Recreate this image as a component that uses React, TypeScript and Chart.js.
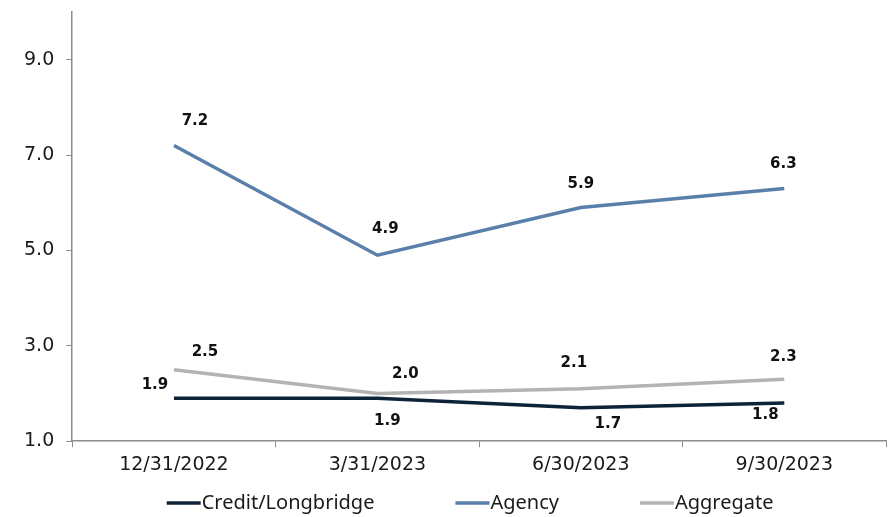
import { useEffect, useRef } from "react";
import { Chart, registerables } from "chart.js";

Chart.register(...registerables);

const categories = ["12/31/2022", "3/31/2023", "6/30/2023", "9/30/2023"];
const creditLongbridge = [1.9, 1.9, 1.7, 1.8];
const agency = [7.2, 4.9, 5.9, 6.3];
const aggregate = [2.5, 2.0, 2.1, 2.3];
const yTicks = [1, 3, 5, 7, 9];

const COLORS = {
  credit: "#0d2438",
  agency: "#5b7fab",
  aggregate: "#b3b3b3",
  axis: "#8c8c8c",
  text: "#1a1a1a",
};

export default function App() {
  const ref = useRef<HTMLCanvasElement>(null);

  useEffect(() => {
    document.body.style.margin = "0";
    const canvas = ref.current;
    if (!canvas) return;

    // label offsets (dx, dy) relative to each point, per dataset
    const labelOffsets = [
      [[-19, -13], [10, 23], [27, 16], [-19, 12]],
      [[21, -24], [8, -26], [0, -23], [-1, -24]],
      [[31, -18], [28, -19], [-7, -26], [-1, -22]],
    ];

    const dataLabels = {
      id: "dataLabels",
      afterDatasetsDraw(chart: any) {
        const ctx = chart.ctx;
        ctx.save();
        ctx.font = "bold 15px 'DejaVu Sans'";
        ctx.fillStyle = "#111111";
        ctx.textAlign = "center";
        ctx.textBaseline = "middle";
        chart.data.datasets.forEach((ds: any, i: number) => {
          const meta = chart.getDatasetMeta(i);
          meta.data.forEach((pt: any, j: number) => {
            const [dx, dy] = labelOffsets[i][j];
            ctx.fillText(Number(ds.data[j]).toFixed(1), pt.x + dx, pt.y + dy);
          });
        });
        ctx.restore();
      },
    };

    const customLegend = {
      id: "customLegend",
      afterDraw(chart: any) {
        const ctx = chart.ctx;
        ctx.save();
        ctx.font = "20px 'Noto Sans'";
        ctx.textBaseline = "middle";
        ctx.textAlign = "left";
        const sample = 34;
        const gap = 1;
        const spacing = 81;
        const items = chart.data.datasets.map((ds: any) => ({
          text: ds.label,
          color: ds.borderColor,
          w: ctx.measureText(ds.label).width,
        }));
        const total =
          items.reduce((s: number, it: any) => s + sample + gap + it.w, 0) +
          spacing * (items.length - 1);
        const center = (chart.chartArea.left + chart.chartArea.right) / 2 - 9;
        let x = center - total / 2;
        const y = chart.height - 14;
        items.forEach((it: any) => {
          ctx.strokeStyle = it.color;
          ctx.lineWidth = 3.5;
          ctx.beginPath();
          ctx.moveTo(x, y);
          ctx.lineTo(x + sample, y);
          ctx.stroke();
          ctx.fillStyle = COLORS.text;
          ctx.fillText(it.text, x + sample + gap, y);
          x += sample + gap + it.w + spacing;
        });
        ctx.restore();
      },
    };

    const chart = new Chart(canvas, {
      type: "line",
      data: {
        labels: categories,
        datasets: [
          {
            label: "Credit/Longbridge",
            data: creditLongbridge,
            borderColor: COLORS.credit,
            backgroundColor: COLORS.credit,
            borderWidth: 3.5,
            pointRadius: 0,
            tension: 0,
          },
          {
            label: "Agency",
            data: agency,
            borderColor: COLORS.agency,
            backgroundColor: COLORS.agency,
            borderWidth: 3.5,
            pointRadius: 0,
            tension: 0,
          },
          {
            label: "Aggregate",
            data: aggregate,
            borderColor: COLORS.aggregate,
            backgroundColor: COLORS.aggregate,
            borderWidth: 3.5,
            pointRadius: 0,
            tension: 0,
          },
        ],
      },
      options: {
        animation: false,
        responsive: true,
        maintainAspectRatio: false,
        layout: { padding: { top: 12, right: 7, left: 12, bottom: 35 } },
        plugins: {
          legend: { display: false },
          tooltip: { enabled: false },
        },
        scales: {
          x: {
            type: "category",
            offset: true,
            grid: {
              display: true,
              drawOnChartArea: false,
              drawTicks: true,
              tickLength: 6,
              color: COLORS.axis,
              offset: true,
            },
            border: { display: true, color: COLORS.axis, width: 1.5 },
            ticks: {
              font: { family: "'DejaVu Sans'", size: 19 },
              color: COLORS.text,
              padding: 6,
              maxRotation: 0,
            },
          },
          y: {
            min: 1,
            max: 10,
            afterBuildTicks: (axis: any) => {
              axis.ticks = yTicks.map((v) => ({ value: v }));
            },
            afterFit: (axis: any) => {
              axis.paddingTop = 0;
            },
            grid: {
              display: true,
              drawOnChartArea: false,
              drawTicks: true,
              tickLength: 6,
              color: COLORS.axis,
            },
            border: { display: true, color: COLORS.axis, width: 1.5 },
            ticks: {
              font: { family: "'DejaVu Sans'", size: 19 },
              color: COLORS.text,
              padding: 12,
              callback: (v: any) => Number(v).toFixed(1),
            },
          },
        },
      },
      plugins: [dataLabels, customLegend],
    });

    return () => chart.destroy();
  }, []);

  return (
    <div style={{ position: "relative", width: 893, height: 517 }}>
      <canvas ref={ref} />
    </div>
  );
}
